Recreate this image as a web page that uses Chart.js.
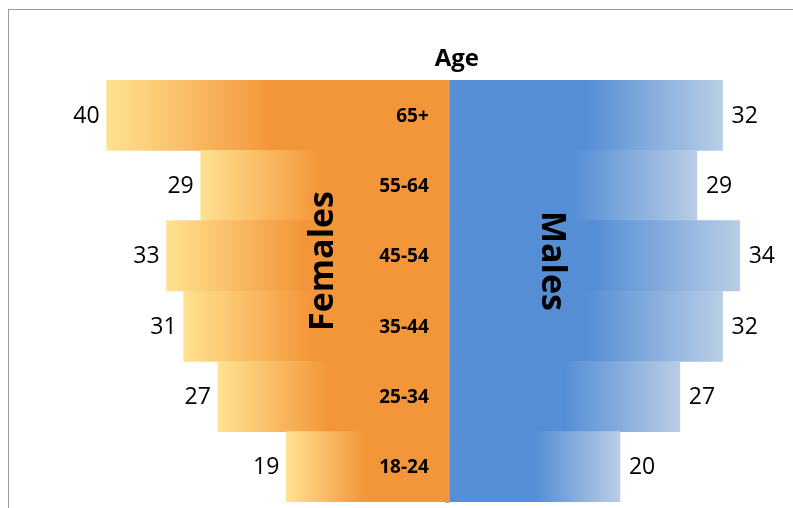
<!DOCTYPE html>
<html>
<head>
<meta charset="utf-8">
<script src="https://cdn.jsdelivr.net/npm/chart.js@4"></script>
<style>
  html, body { margin: 0; padding: 0; background: #fff; }
  #wrap { position: relative; width: 793px; height: 508px; overflow: hidden; }
  #frame { position: absolute; left: 8px; top: 9px; width: 900px; height: 600px;
           border-left: 1px solid #9a9a9a; border-top: 1px solid #9a9a9a; }
  #chart { position: absolute; left: 0; top: 0; }
</style>
</head>
<body>
<div id="wrap">
  <div id="frame"></div>
  <canvas id="chart" width="793" height="508"></canvas>
</div>
<script>
// age groups, top row first
const ageGroups = ['65+', '55-64', '45-54', '35-44', '25-34', '18-24']
const females = [40, 29, 33, 31, 27, 19]
const males = [32, 29, 34, 32, 27, 20]

const FONT = "'Open Sans', 'Noto Sans', sans-serif"

function femaleFill(ctx){
  const chart = ctx.chart
  if(!chart.chartArea || ctx.type !== 'data') return '#F39639'
  const x = chart.scales.x
  const x0 = x.getPixelForValue(0)
  const x1 = x.getPixelForValue(ctx.raw)
  const g = chart.ctx.createLinearGradient(x1, 0, x0, 0)
  g.addColorStop(0, '#FFE291')
  g.addColorStop(0.48, '#F39639')
  g.addColorStop(1, '#F39639')
  return g
}

function maleFill(ctx){
  const chart = ctx.chart
  if(!chart.chartArea || ctx.type !== 'data') return '#558ED5'
  const x = chart.scales.x
  const x0 = x.getPixelForValue(0)
  const x1 = x.getPixelForValue(ctx.raw)
  const g = chart.ctx.createLinearGradient(x0, 0, x1, 0)
  g.addColorStop(0, '#558ED5')
  g.addColorStop(0.5, '#558ED5')
  g.addColorStop(1, '#B9CDE6')
  return g
}

// labels, titles and the centre axis
const pyramidText = {
  id: 'pyramidText',
  afterDatasetsDraw(chart){
    const c = chart.ctx
    const x = chart.scales.x
    const y = chart.scales.y
    const area = chart.chartArea
    const xc = x.getPixelForValue(0)
    c.save()

    // centre axis + small ticks between the rows
    c.strokeStyle = '#a6a6a6'
    c.lineWidth = 1
    c.beginPath()
    c.moveTo(xc + 0.5, area.top)
    c.lineTo(xc + 0.5, area.bottom)
    const half = (y.getPixelForValue(1) - y.getPixelForValue(0)) / 2
    for(let i = 0; i <= ageGroups.length; i++){
      const py = Math.round(y.getPixelForValue(i) - half) + 0.5
      c.moveTo(xc - 4, py)
      c.lineTo(xc + 0.5, py)
    }
    c.stroke()

    c.fillStyle = '#000'
    c.textBaseline = 'middle'

    // value labels at the outer ends of the bars
    c.font = '400 23px ' + FONT
    const fMeta = chart.getDatasetMeta(0)
    const mMeta = chart.getDatasetMeta(1)
    fMeta.data.forEach(function(bar, i){
      c.textAlign = 'right'
      c.fillText(String(females[i]), bar.x - 7, bar.y + 1)
    })
    mMeta.data.forEach(function(bar, i){
      c.textAlign = 'left'
      c.fillText(String(males[i]), bar.x + 9, bar.y + 1)
    })

    // age group labels just left of the centre
    c.font = '700 19px ' + FONT
    c.textAlign = 'right'
    ageGroups.forEach(function(lab, i){
      c.fillText(lab, xc - 20, y.getPixelForValue(i) + 1)
    })

    // axis title
    c.font = '700 24px ' + FONT
    c.textAlign = 'center'
    c.fillText('Age', xc + 8, area.top - 21)

    // side names
    const midY = (area.top + area.bottom) / 2 - 30
    c.font = '700 34px ' + FONT
    c.save()
    c.translate(x.getPixelForValue(-14.7), midY)
    c.rotate(-Math.PI / 2)
    c.fillText('Females', 0, 0)
    c.restore()
    c.save()
    c.translate(x.getPixelForValue(12.0), midY)
    c.rotate(Math.PI / 2)
    c.fillText('Males', 0, 0)
    c.restore()

    c.restore()
  }
}

const data = {
  labels: ageGroups,
  datasets: [
    {
      label: 'Females',
      data: females.map(function(v){ return -v }),
      backgroundColor: femaleFill,
      borderWidth: 0,
      barPercentage: 1,
      categoryPercentage: 1
    },
    {
      label: 'Males',
      data: males,
      backgroundColor: maleFill,
      borderWidth: 0,
      barPercentage: 1,
      categoryPercentage: 1
    }
  ]
}

const config = {
  type: 'bar',
  data: data,
  options: {
    indexAxis: 'y',
    responsive: false,
    animation: false,
    layout: { padding: { left: 4, right: 2, top: 80, bottom: 6 } },
    scales: {
      x: { stacked: true, min: -52, max: 40, display: false },
      y: { stacked: true, display: false }
    },
    plugins: {
      legend: { display: false },
      tooltip: { enabled: false }
    }
  },
  plugins: [pyramidText]
}

const pyramid = new Chart(document.getElementById('chart'), config)
</script>
</body>
</html>
